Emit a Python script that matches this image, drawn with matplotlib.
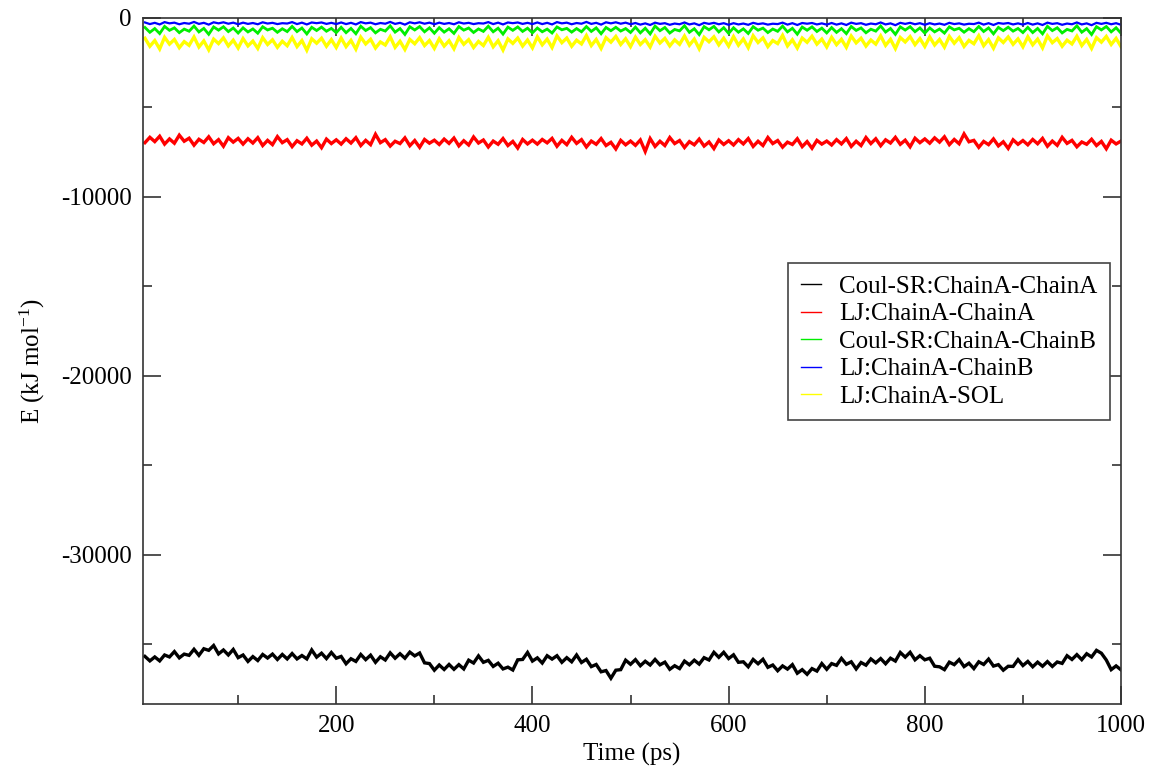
import numpy as np
import matplotlib
matplotlib.use("Agg")
import matplotlib.pyplot as plt
from matplotlib.ticker import MultipleLocator

plt.rcParams['font.family'] = ['Liberation Serif', 'DejaVu Serif']
plt.rcParams['mathtext.fontset'] = 'custom'
plt.rcParams['mathtext.rm'] = 'Liberation Serif'
plt.rcParams['mathtext.default'] = 'regular'

# ---- data (kJ/mol), sampled every 5 ps ----
time_ps = np.arange(5, 1001, 5)

coul_AA = [
    -35690, -35940, -35720, -35940, -35610, -35720, -35420, -35770, -35560, -35630,
    -35290, -35630, -35260, -35350, -35080, -35550, -35330, -35610, -35300, -35760,
    -35610, -35970, -35700, -35920, -35580, -35780, -35560, -35860, -35580, -35830,
    -35530, -35830, -35640, -35830, -35330, -35730, -35510, -35810, -35470, -35790,
    -35690, -36100, -35820, -35970, -35580, -35870, -35620, -36020, -35710, -35890,
    -35490, -35790, -35540, -35790, -35450, -35660, -35500, -36050, -36090, -36460,
    -36170, -36420, -36140, -36410, -36150, -36390, -35900, -36060, -35660, -36020,
    -35910, -36250, -36070, -36390, -36290, -36450, -35880, -35860, -35470, -35950,
    -35770, -36060, -35650, -35840, -35650, -36020, -35760, -35990, -35610, -36030,
    -35850, -36260, -36140, -36550, -36480, -36910, -36460, -36430, -35900, -36130,
    -35870, -36210, -35960, -36170, -35860, -36160, -36010, -36410, -36210, -36370,
    -35950, -36160, -35900, -36120, -35760, -35890, -35460, -35740, -35460, -35810,
    -35600, -36020, -35990, -36270, -35860, -36100, -35850, -36300, -36170, -36490,
    -36220, -36400, -36150, -36630, -36430, -36690, -36370, -36510, -36090, -36410,
    -36090, -36190, -35800, -36130, -35990, -36390, -36030, -36180, -35830, -36050,
    -35810, -36100, -35790, -35950, -35470, -35730, -35460, -35880, -35650, -35880,
    -35790, -36240, -36270, -36430, -36010, -36150, -35870, -36260, -36070, -36370,
    -35990, -36140, -35840, -36230, -36150, -36460, -36240, -36250, -35870, -36200,
    -35970, -36270, -36010, -36240, -35980, -36250, -36000, -36080, -35650, -35860,
    -35590, -35870, -35540, -35720, -35350, -35510, -35890, -36430, -36220, -36440,
]

lj_AA = [
    -6970, -6670, -6910, -6610, -7050, -6760, -7000, -6550, -6890, -6720,
    -7110, -6780, -6960, -6640, -7030, -6800, -7170, -6690, -6940, -6730,
    -7050, -6750, -6990, -6690, -7130, -6840, -7080, -6630, -6970, -6800,
    -7190, -6860, -7040, -6720, -7110, -6880, -7250, -6770, -7020, -6810,
    -7050, -6750, -6990, -6690, -7130, -6840, -7080, -6500, -6970, -6800,
    -7160, -6890, -7020, -6700, -7140, -6850, -7230, -6790, -7000, -6830,
    -7070, -6770, -7010, -6710, -7150, -6860, -7100, -6650, -6990, -6820,
    -7210, -6880, -7060, -6740, -7130, -6900, -7270, -6790, -7040, -6830,
    -7050, -6790, -6980, -6730, -7170, -6840, -7080, -6670, -7010, -6800,
    -7210, -6880, -7060, -6740, -7130, -6950, -7320, -6840, -7090, -6880,
    -7120, -6820, -7460, -6740, -7180, -6890, -7130, -6680, -7020, -6850,
    -7240, -6910, -7090, -6770, -7160, -6930, -7300, -6820, -7070, -6860,
    -7100, -6800, -7040, -6740, -7180, -6890, -7130, -6680, -7020, -6850,
    -7220, -6940, -7070, -6750, -7190, -6910, -7280, -6840, -7050, -6880,
    -7100, -6800, -7040, -6740, -7180, -6890, -7130, -6680, -7020, -6750,
    -7140, -6810, -6990, -6670, -7060, -6830, -7200, -6720, -6970, -6760,
    -7000, -6700, -6940, -6640, -7080, -6790, -7030, -6480, -6920, -6840,
    -7230, -6900, -7080, -6760, -7150, -6920, -7290, -6810, -7060, -6850,
    -7090, -6790, -7030, -6730, -7170, -6880, -7120, -6670, -7010, -6840,
    -7200, -6930, -7060, -6780, -7130, -6900, -7310, -6830, -7040, -6880,
]

coul_AB = [
    -530, -800, -590, -870, -470, -690, -550, -820, -620, -740,
    -450, -780, -580, -910, -500, -680, -490, -760, -560, -840,
    -550, -780, -610, -850, -490, -670, -570, -800, -600, -760,
    -470, -760, -560, -890, -520, -700, -510, -740, -580, -820,
    -520, -820, -580, -880, -460, -700, -540, -830, -630, -730,
    -440, -790, -590, -920, -490, -670, -480, -770, -550, -850,
    -540, -790, -600, -860, -480, -680, -560, -810, -610, -750,
    -460, -770, -570, -900, -510, -690, -500, -750, -570, -830,
    -560, -770, -620, -840, -500, -660, -580, -790, -590, -770,
    -480, -750, -550, -880, -530, -710, -520, -730, -590, -810,
    -510, -830, -570, -890, -450, -710, -530, -840, -640, -720,
    -430, -800, -600, -930, -480, -660, -470, -780, -540, -860,
    -545, -795, -605, -865, -485, -685, -565, -815, -615, -745,
    -455, -775, -575, -905, -505, -685, -495, -755, -565, -835,
    -535, -805, -595, -875, -475, -695, -555, -825, -625, -735,
    -445, -785, -585, -915, -495, -675, -485, -765, -555, -845,
    -555, -775, -615, -845, -495, -665, -575, -795, -595, -765,
    -475, -755, -555, -885, -525, -705, -515, -735, -585, -815,
    -525, -815, -585, -885, -465, -705, -545, -835, -635, -725,
    -435, -795, -595, -925, -485, -665, -475, -775, -545, -855,
]

lj_AB = [
    -250, -340, -270, -360, -230, -300, -260, -350, -280, -320,
    -220, -330, -270, -370, -240, -300, -240, -320, -260, -350,
    -260, -330, -280, -350, -240, -310, -270, -340, -290, -310,
    -230, -340, -260, -360, -250, -290, -250, -330, -270, -340,
    -250, -340, -270, -360, -230, -300, -260, -350, -280, -320,
    -220, -330, -270, -370, -240, -300, -240, -320, -260, -350,
    -260, -330, -280, -350, -240, -310, -270, -340, -290, -310,
    -230, -340, -260, -360, -250, -290, -250, -330, -270, -340,
    -250, -340, -270, -360, -230, -300, -260, -350, -280, -320,
    -220, -330, -270, -370, -240, -300, -240, -320, -260, -350,
    -280, -370, -300, -390, -260, -330, -290, -380, -310, -350,
    -250, -360, -300, -400, -270, -330, -270, -350, -290, -380,
    -290, -360, -310, -380, -270, -340, -300, -370, -320, -340,
    -260, -370, -290, -390, -280, -320, -280, -360, -300, -370,
    -280, -370, -300, -390, -260, -330, -290, -380, -310, -350,
    -250, -360, -300, -400, -270, -330, -270, -350, -290, -380,
    -290, -360, -310, -380, -270, -340, -300, -370, -320, -340,
    -260, -370, -290, -390, -280, -320, -280, -360, -300, -370,
    -280, -370, -300, -390, -260, -330, -290, -380, -310, -350,
    -250, -360, -300, -400, -270, -330, -270, -350, -290, -380,
]

lj_SOL = [
    -1130, -1580, -1260, -1730, -1080, -1460, -1200, -1660, -1320, -1530,
    -1060, -1620, -1280, -1780, -1180, -1430, -1110, -1560, -1240, -1680,
    -1150, -1560, -1290, -1700, -1100, -1480, -1220, -1640, -1300, -1550,
    -1090, -1600, -1260, -1800, -1160, -1410, -1130, -1580, -1210, -1650,
    -1120, -1600, -1250, -1740, -1070, -1450, -1190, -1680, -1340, -1510,
    -1050, -1640, -1300, -1760, -1200, -1440, -1100, -1540, -1260, -1700,
    -1160, -1570, -1270, -1720, -1090, -1470, -1210, -1650, -1310, -1540,
    -1080, -1610, -1270, -1790, -1170, -1420, -1120, -1570, -1230, -1670,
    -1050, -1500, -1180, -1650, -1000, -1380, -1120, -1580, -1240, -1450,
    -980, -1540, -1200, -1700, -1100, -1350, -1030, -1480, -1160, -1600,
    -1070, -1480, -1210, -1620, -1020, -1400, -1140, -1560, -1220, -1470,
    -1010, -1520, -1180, -1720, -1080, -1330, -1050, -1500, -1130, -1570,
    -1040, -1520, -1170, -1660, -990, -1370, -1110, -1600, -1260, -1430,
    -970, -1560, -1220, -1680, -1120, -1360, -1020, -1460, -1180, -1620,
    -1080, -1490, -1190, -1640, -1010, -1390, -1130, -1570, -1230, -1460,
    -1000, -1530, -1190, -1710, -1090, -1340, -1040, -1490, -1150, -1590,
    -1060, -1510, -1200, -1630, -1030, -1410, -1100, -1590, -1250, -1440,
    -990, -1550, -1210, -1690, -1110, -1370, -1060, -1470, -1170, -1610,
    -1050, -1500, -1180, -1670, -1000, -1380, -1150, -1580, -1240, -1450,
    -1020, -1540, -1200, -1700, -1100, -1350, -1030, -1480, -1140, -1600,
]

series_labels = ["Coul-SR:ChainA-ChainA", "LJ:ChainA-ChainA",
                 "Coul-SR:ChainA-ChainB", "LJ:ChainA-ChainB", "LJ:ChainA-SOL"]
series_colors = ["#000000", "#ff0000", "#00ee00", "#0000ff", "#ffff00"]
series_widths = [2.4, 2.4, 2.0, 1.6, 2.4]
series_values = [coul_AA, lj_AA, coul_AB, lj_AB, lj_SOL]

fig = plt.figure(figsize=(11.5, 7.69), dpi=100)
ax = fig.add_axes([143/1150, 1 - 704/769, (1121 - 143)/1150, (704 - 18)/769])

for vals, col, lab, lw in zip(series_values, series_colors, series_labels, series_widths):
    ax.plot(time_ps, vals, color=col, lw=lw, label=lab, solid_joinstyle='miter')

ax.set_xlim(3, 1000)
ax.set_ylim(-38350, 0)
ax.xaxis.set_major_locator(MultipleLocator(200))
ax.xaxis.set_minor_locator(MultipleLocator(100))
ax.yaxis.set_major_locator(MultipleLocator(10000))
ax.yaxis.set_minor_locator(MultipleLocator(5000))
ax.tick_params(which='both', direction='in', top=True, right=True,
               width=1.1, color='#222222')
ax.tick_params(which='major', length=13, labelsize=18, pad=8)
ax.tick_params(which='minor', length=6.5)
for sp in ax.spines.values():
    sp.set_linewidth(1.2)
    sp.set_color('#333333')

ax.yaxis.set_major_formatter(matplotlib.ticker.FuncFormatter(lambda v, p: f"{int(v)}"))

ax.set_xlabel("Time (ps)", fontsize=18, labelpad=4)
ax.set_ylabel("E (kJ mol$^{-1}$)", fontsize=18, labelpad=10)

leg = ax.legend(loc='upper right', bbox_to_anchor=(0.989, 0.643), fontsize=18,
                frameon=True, fancybox=False, framealpha=1, edgecolor='#444444',
                handlelength=0.8, handletextpad=0.75, labelspacing=0.2,
                borderpad=0.5, borderaxespad=0)
leg.get_frame().set_linewidth(1.2)
for line in leg.get_lines():
    line.set_linewidth(1.0)

fig.savefig("out.png", dpi=100, facecolor='white')
